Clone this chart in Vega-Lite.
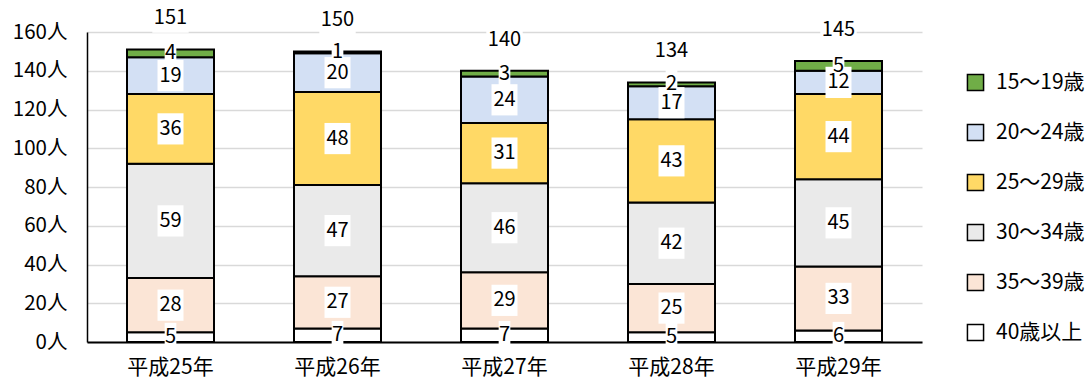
{
  "$schema": "https://vega.github.io/schema/vega-lite/v6.json",
  "autosize": {"type": "none"},
  "padding": {"left": 87, "top": 32, "right": 169, "bottom": 45},
  "width": 835,
  "height": 310,
  "background": "white",
  "config": {
    "font": "Noto Sans CJK JP",
    "view": {"stroke": null}
  },
  "data": {
    "values": [
      {"year": "平成25年", "age": "40歳以上", "ord": 1, "value": 5},
      {"year": "平成25年", "age": "35～39歳", "ord": 2, "value": 28},
      {"year": "平成25年", "age": "30～34歳", "ord": 3, "value": 59},
      {"year": "平成25年", "age": "25～29歳", "ord": 4, "value": 36},
      {"year": "平成25年", "age": "20～24歳", "ord": 5, "value": 19},
      {"year": "平成25年", "age": "15～19歳", "ord": 6, "value": 4},
      {"year": "平成26年", "age": "40歳以上", "ord": 1, "value": 7},
      {"year": "平成26年", "age": "35～39歳", "ord": 2, "value": 27},
      {"year": "平成26年", "age": "30～34歳", "ord": 3, "value": 47},
      {"year": "平成26年", "age": "25～29歳", "ord": 4, "value": 48},
      {"year": "平成26年", "age": "20～24歳", "ord": 5, "value": 20},
      {"year": "平成26年", "age": "15～19歳", "ord": 6, "value": 1},
      {"year": "平成27年", "age": "40歳以上", "ord": 1, "value": 7},
      {"year": "平成27年", "age": "35～39歳", "ord": 2, "value": 29},
      {"year": "平成27年", "age": "30～34歳", "ord": 3, "value": 46},
      {"year": "平成27年", "age": "25～29歳", "ord": 4, "value": 31},
      {"year": "平成27年", "age": "20～24歳", "ord": 5, "value": 24},
      {"year": "平成27年", "age": "15～19歳", "ord": 6, "value": 3},
      {"year": "平成28年", "age": "40歳以上", "ord": 1, "value": 5},
      {"year": "平成28年", "age": "35～39歳", "ord": 2, "value": 25},
      {"year": "平成28年", "age": "30～34歳", "ord": 3, "value": 42},
      {"year": "平成28年", "age": "25～29歳", "ord": 4, "value": 43},
      {"year": "平成28年", "age": "20～24歳", "ord": 5, "value": 17},
      {"year": "平成28年", "age": "15～19歳", "ord": 6, "value": 2},
      {"year": "平成29年", "age": "40歳以上", "ord": 1, "value": 6},
      {"year": "平成29年", "age": "35～39歳", "ord": 2, "value": 33},
      {"year": "平成29年", "age": "30～34歳", "ord": 3, "value": 45},
      {"year": "平成29年", "age": "25～29歳", "ord": 4, "value": 44},
      {"year": "平成29年", "age": "20～24歳", "ord": 5, "value": 12},
      {"year": "平成29年", "age": "15～19歳", "ord": 6, "value": 5}
    ]
  },
  "encoding": {
    "x": {
      "field": "year", "type": "nominal", "sort": null,
      "scale": {"paddingInner": 0, "paddingOuter": 0},
      "axis": {"title": null, "labelAngle": 0, "labelFontSize": 21, "labelColor": "#000", "ticks": false, "labelPadding": 14, "domainColor": "#000", "domainWidth": 2, "grid": false}
    }
  },
  "layer": [
    {
      "mark": {"type": "bar", "width": 87, "stroke": "#000", "strokeWidth": 2},
      "encoding": {
        "y": {
          "field": "value", "type": "quantitative", "stack": "zero",
          "scale": {"domain": [0, 160], "nice": false},
          "axis": {"title": null, "values": [0, 20, 40, 60, 80, 100, 120, 140, 160], "tickCount": 20, "labelOverlap": false, "labelExpr": "datum.value + '人'", "labelFontSize": 20.5, "labelColor": "#000", "ticks": false, "labelPadding": 20, "domainColor": "#000", "domainWidth": 1.5, "gridColor": "#d9d9d9", "gridWidth": 1.5}
        },
        "color": {
          "field": "age", "type": "nominal",
          "scale": {
            "domain": ["15～19歳", "20～24歳", "25～29歳", "30～34歳", "35～39歳", "40歳以上"],
            "range": ["#70AD47", "#D3E0F4", "#FFD966", "#EAEAEA", "#FBE5D6", "#FFFFFF"]
          },
          "legend": {
            "title": null, "orient": "none", "legendX": 878, "legendY": 40,
            "symbolType": "square", "symbolSize": 260, "symbolStrokeColor": "#000", "symbolStrokeWidth": 1.5,
            "labelFontSize": 21, "labelColor": "#000", "rowPadding": 27, "labelOffset": 10
          }
        },
        "order": {"field": "ord", "type": "quantitative"}
      }
    },
    {
      "mark": {"type": "point", "filled": true, "color": "white", "opacity": 1, "size": 676},
      "encoding": {
        "y": {"field": "value", "type": "quantitative", "stack": "zero", "bandPosition": 0.5},
        "detail": {"field": "age"},
        "order": {"field": "ord", "type": "quantitative"},
        "shape": {
          "condition": {"test": "datum.value >= 10", "value": "M-1,-1.2H1V1.2H-1Z"},
          "value": "M-0.45,-1.1H0.45V1.1H-0.45Z"
        }
      }
    },
    {
      "mark": {"type": "text", "fontSize": 20, "color": "#000", "baseline": "middle", "align": "center"},
      "encoding": {
        "y": {"field": "value", "type": "quantitative", "stack": "zero", "bandPosition": 0.5},
        "detail": {"field": "age"},
        "order": {"field": "ord", "type": "quantitative"},
        "text": {"field": "value", "type": "quantitative"}
      }
    },
    {
      "transform": [{"aggregate": [{"op": "sum", "field": "value", "as": "total"}], "groupby": ["year"]}],
      "mark": {"type": "point", "filled": true, "color": "white", "opacity": 1, "size": 676, "shape": "M-1.4,-1.1H1.4V1.1H-1.4Z"},
      "encoding": {
        "y": {"field": "total", "type": "quantitative"},
        "yOffset": {"value": -31}
      }
    },
    {
      "transform": [{"aggregate": [{"op": "sum", "field": "value", "as": "total"}], "groupby": ["year"]}],
      "mark": {"type": "text", "fontSize": 20, "color": "#000", "baseline": "middle", "align": "center", "dy": -31},
      "encoding": {
        "y": {"field": "total", "type": "quantitative"},
        "text": {"field": "total", "type": "quantitative"}
      }
    }
  ]
}
